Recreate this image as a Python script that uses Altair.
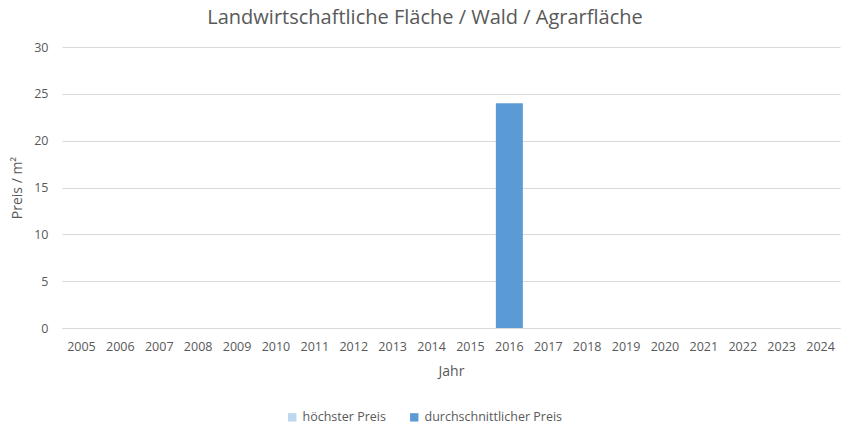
import altair as alt
import pandas as pd

years = [str(y) for y in range(2005, 2025)]
hoechster = [None] * 20
durchschnitt = [None] * 11 + [24] + [None] * 8
series = ["höchster Preis", "durchschnittlicher Preis"]
colors = ["#bdd7ee", "#5b9bd5"]

rows = []
for i, y in enumerate(years):
    rows.append({"Jahr": y, "Serie": series[0], "Preis": hoechster[i]})
    rows.append({"Jahr": y, "Serie": series[1], "Preis": durchschnitt[i]})
df = pd.DataFrame(rows)

FONT = "Open Sans"
GREY = "#595959"

chart = alt.Chart(df).mark_bar().encode(
    x=alt.X("Jahr:N", sort=years,
            scale=alt.Scale(paddingInner=0.306, paddingOuter=0.153),
            axis=alt.Axis(title="Jahr", labelAngle=0, ticks=False, domainColor="#d9d9d9",
                          labelFontSize=12.5, labelColor=GREY, labelPadding=12,
                          titleFontSize=14, titleColor=GREY, titleFontWeight="normal",
                          titlePadding=12, labelFont=FONT, titleFont=FONT)),
    y=alt.Y("Preis:Q", scale=alt.Scale(domain=[0, 30]),
            axis=alt.Axis(title="Preis / m²", values=[0, 5, 10, 15, 20, 25, 30],
                          ticks=False, domain=False, gridColor="#d9d9d9",
                          labelFontSize=12.5, labelColor=GREY, labelPadding=14,
                          titleFontSize=14, titleColor=GREY, titleFontWeight="normal",
                          titlePadding=9, labelFont=FONT, titleFont=FONT)),
    color=alt.Color("Serie:N", scale=alt.Scale(domain=series, range=colors),
                    legend=alt.Legend(title=None, orient="none", direction="horizontal",
                                      legendX=224, legendY=364, symbolType="square",
                                      symbolSize=70, symbolStrokeWidth=0,
                                      labelFontSize=12.5, labelColor=GREY, labelFont=FONT,
                                      columnPadding=22)),
).properties(
    width=778, height=281,
    title=alt.TitleParams("Landwirtschaftliche Fläche / Wald / Agrarfläche",
                          fontSize=20, color=GREY, fontWeight="normal", font=FONT,
                          anchor="middle", dx=-26, offset=13),
    autosize=alt.AutoSizeParams(type="none"),
    padding={"left": 62, "top": 47, "right": 9, "bottom": 103},
).configure_view(stroke=None)

chart.save("out.html", embed_options={"renderer": "svg", "actions": False})
